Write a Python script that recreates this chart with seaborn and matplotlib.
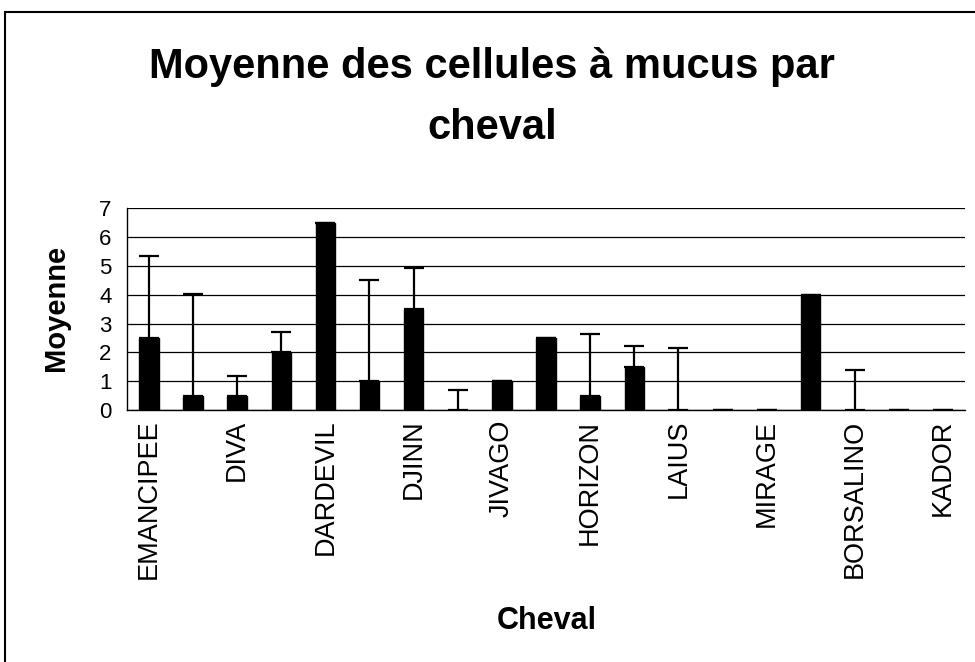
import matplotlib
matplotlib.use("Agg")
import matplotlib.pyplot as plt
from matplotlib.patches import Rectangle
import pandas as pd
import seaborn as sns

# Excel only printed every other horse name; the hidden ones stay blank
CHEVAUX = [
    "EMANCIPEE", "", "DIVA", "", "DARDEVIL", "", "DJINN", "", "JIVAGO", "",
    "HORIZON", "", "LAIUS", "", "MIRAGE", "", "BORSALINO", "", "KADOR",
]
MOYENNES = [2.5, 0.5, 0.5, 2.0, 6.5, 1.0, 3.5, 0.0, 1.0, 2.5,
            0.5, 1.5, 0.0, 0.0, 0.0, 4.0, 0.0, 0.0, 0.0]
# upper ends of the error bars (only the positive side is drawn)
HAUT_ERREUR = [5.35, 4.03, 1.19, 2.71, 6.5, 4.52, 4.93, 0.69, 1.0, 2.5,
               2.64, 2.22, 2.15, 0.0, 0.0, 4.0, 1.39, 0.0, 0.0]

sns.set_style("white")
plt.rcParams["font.family"] = ["Liberation Sans", "DejaVu Sans"]
plt.rcParams.update({
    "text.color": "black",
    "axes.labelcolor": "black",
    "xtick.color": "black",
    "ytick.color": "black",
})

df = pd.DataFrame({
    "idx": list(range(len(CHEVAUX))),
    "moyenne": MOYENNES,
    "haut": HAUT_ERREUR,
})

fig = plt.figure(figsize=(9.75, 6.62), dpi=100)
ax = fig.add_axes([0.130, 0.3807, 0.860, 0.3046])

sns.barplot(data=df, x="idx", y="moyenne", color="black", width=0.44,
            edgecolor="black", linewidth=1, saturation=1, ax=ax, zorder=3)

err_up = [h - m for h, m in zip(df["haut"], df["moyenne"])]
ax.errorbar(df["idx"], df["moyenne"], yerr=[[0] * len(err_up), err_up],
            fmt="none", ecolor="black", elinewidth=1.6, capsize=7.5,
            capthick=1.6, zorder=4)

ax.set_xlim(-0.5, len(CHEVAUX) - 0.5)
ax.set_ylim(0, 7)
ax.set_yticks(range(0, 8))
ax.grid(axis="y", color="black", linewidth=0.9, zorder=0)
ax.set_axisbelow(True)

# Excel-style: tick marks between categories, labels at the centres
ax.set_xticks([i - 0.5 for i in range(len(CHEVAUX) + 1)])
ax.set_xticklabels([])
ax.set_xticks(list(range(len(CHEVAUX))), minor=True)
ax.set_xticklabels(CHEVAUX, minor=True, rotation=90, fontsize=19.5)
ax.tick_params(axis="x", which="major", direction="out", length=6, width=1, color="black")
ax.tick_params(axis="x", which="minor", length=0, pad=7)
ax.tick_params(axis="y", direction="out", length=6, width=1, color="black",
               labelsize=16, pad=5)

for side in ("top", "right"):
    ax.spines[side].set_visible(False)
for side in ("left", "bottom"):
    ax.spines[side].set_color("black")
    ax.spines[side].set_linewidth(1)

ax.set_xlabel("Cheval", fontsize=22, fontweight="bold")
ax.set_ylabel("Moyenne", fontsize=21, fontweight="bold")
ax.xaxis.set_label_coords(0.501, -0.974)
ax.yaxis.set_label_coords(-0.068, 0.505)

fig.text(0.505, 1 - 78 / 662, "Moyenne des cellules à mucus par",
         ha="center", va="baseline", fontsize=30, fontweight="bold")
fig.text(0.505, 1 - 139 / 662, "cheval",
         ha="center", va="baseline", fontsize=30, fontweight="bold")

fig.patches.append(Rectangle((5 / 975, -0.01), 1.0, 1 - 12 / 662 + 0.01,
                             transform=fig.transFigure, fill=False,
                             edgecolor="black", linewidth=1.5))

fig.savefig("out.png", dpi=100, facecolor="white")
